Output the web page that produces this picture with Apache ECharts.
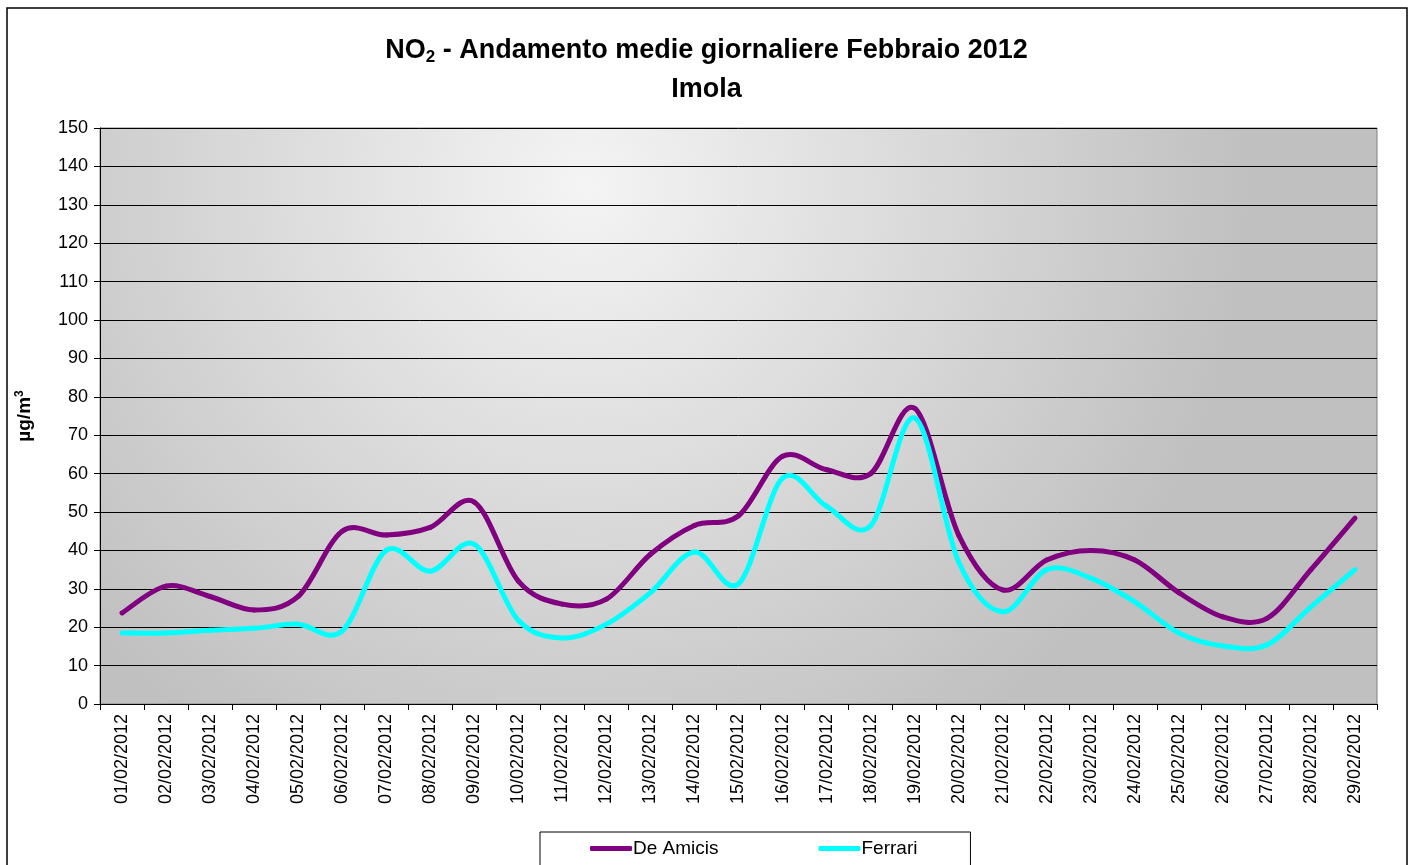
<!DOCTYPE html>
<html>
<head>
<meta charset="utf-8">
<script src="https://cdn.jsdelivr.net/npm/echarts@6/dist/echarts.min.js"></script>
<style>
html,body{margin:0;padding:0;background:#fff;}
#chart{width:1413px;height:865px;}
</style>
</head>
<body>
<div id="chart"></div>
<script>
const categories = ['01/02/2012','02/02/2012','03/02/2012','04/02/2012','05/02/2012','06/02/2012','07/02/2012','08/02/2012','09/02/2012','10/02/2012','11/02/2012','12/02/2012','13/02/2012','14/02/2012','15/02/2012','16/02/2012','17/02/2012','18/02/2012','19/02/2012','20/02/2012','21/02/2012','22/02/2012','23/02/2012','24/02/2012','25/02/2012','26/02/2012','27/02/2012','28/02/2012','29/02/2012'];
const deAmicis = [23.7,30.7,28,24.5,28,45,44,46,52.6,32,26,27.3,39,46.5,49,64.5,61,60,77,44,29.7,37.5,40,37.5,29,22.7,22.3,35,48.4];
const ferrari = [18.5,18.5,19.2,19.7,20.8,19,40,34.6,41.6,21.8,17.2,20.8,29,39.6,31.3,58.8,51.5,46.4,74.5,37,24,35,32.8,26.6,18.5,15.1,15.4,25.3,35];
const seriesNames = ['De Amicis','Ferrari'];
const seriesColors = ['#800080','#00ffff'];
const yTicks = {min:0, max:150, interval:10};

const font = 'Liberation Sans, Arial, sans-serif';

// Smooth (Catmull-Rom style) segment between point i and i+1, positioned via the axis scales.
function smoothSegment(color) {
  return function (params, api) {
    const i = params.dataIndexInside;
    const n = params.dataInsideLength;
    if (i >= n - 1) return null;
    const pt = k => api.coord([api.value(0, k), api.value(1, k)]);
    const p1 = pt(i), p2 = pt(i + 1);
    const p0 = i > 0 ? pt(i - 1) : p1;
    const p3 = i + 2 < n ? pt(i + 2) : p2;
    const t = 1 / 6;
    return {
      type: 'bezierCurve',
      shape: {
        x1: p1[0], y1: p1[1], x2: p2[0], y2: p2[1],
        cpx1: p1[0] + (p2[0] - p0[0]) * t, cpy1: p1[1] + (p2[1] - p0[1]) * t,
        cpx2: p2[0] - (p3[0] - p1[0]) * t, cpy2: p2[1] - (p3[1] - p1[1]) * t
      },
      style: { stroke: color, lineWidth: 5, fill: null, lineCap: 'round' },
      silent: true
    };
  };
}

const chart = echarts.init(document.getElementById('chart'));
chart.setOption({
  animation:false,
  backgroundColor:'#fff',
  textStyle:{fontFamily:font},
  title:{
    left:'center', top:26,
    text:'{a|NO}{s|2}{a| - Andamento medie giornaliere Febbraio 2012}\n{a|Imola}',
    textStyle:{
      rich:{
        a:{fontSize:27,fontWeight:'bold',color:'#000',fontFamily:font,lineHeight:39},
        s:{fontSize:17,fontWeight:'bold',color:'#000',fontFamily:font,padding:[14,0,0,0],lineHeight:24}
      }
    }
  },
  grid:{left:100,right:36,top:128,bottom:161,show:true,borderColor:'#808080',borderWidth:1,
    backgroundColor:{type:'radial',x:0.38,y:0.1,r:1.15,colorStops:[{offset:0,color:'#f4f4f4'},{offset:1,color:'#c0c0c0'}]}},
  legend:{
    data:seriesNames, left:540, top:832,
    padding:[7,53,30,50], itemGap:100,
    borderColor:'#000', borderWidth:1,
    icon:'roundRect', itemWidth:42, itemHeight:5,
    textStyle:{fontSize:19,color:'#000',fontFamily:font,padding:[0,0,0,-4]}
  },
  xAxis:{
    type:'category', data:categories, boundaryGap:true,
    axisLine:{lineStyle:{color:'#000',width:1}},
    axisTick:{show:true,length:6,lineStyle:{color:'#000'}},
    axisLabel:{rotate:90,fontSize:18,color:'#000',margin:10,interval:0,fontFamily:font},
    splitLine:{show:false}
  },
  yAxis:{
    type:'value', min:yTicks.min, max:yTicks.max, interval:yTicks.interval,
    name:'µg/m{sup|3}', nameLocation:'middle', nameGap:64, nameRotate:90,
    nameTextStyle:{fontSize:19,fontWeight:'bold',color:'#000',fontFamily:font,
      rich:{sup:{fontSize:12,fontWeight:'bold',color:'#000',padding:[0,0,10,0],fontFamily:font}}},
    axisLine:{show:true,lineStyle:{color:'#000',width:1}},
    axisTick:{show:true,length:6,lineStyle:{color:'#000'}},
    axisLabel:{fontSize:18,color:'#000',margin:12,fontFamily:font},
    splitLine:{show:true,lineStyle:{color:'#000',width:1}}
  },
  series:[
    {name:seriesNames[0],type:'custom',renderItem:smoothSegment(seriesColors[0]),
      data:deAmicis.map((v,i)=>[i,v]),encode:{x:0,y:1},
      itemStyle:{color:seriesColors[0]},z:3},
    {name:seriesNames[1],type:'custom',renderItem:smoothSegment(seriesColors[1]),
      data:ferrari.map((v,i)=>[i,v]),encode:{x:0,y:1},
      itemStyle:{color:seriesColors[1]},z:4}
  ],
  graphic:[
    {type:'rect',shape:{x:7,y:8,width:1400,height:870},style:{fill:'none',stroke:'#000',lineWidth:1.5},z:-1,silent:true}
  ]
});
</script>
</body>
</html>
